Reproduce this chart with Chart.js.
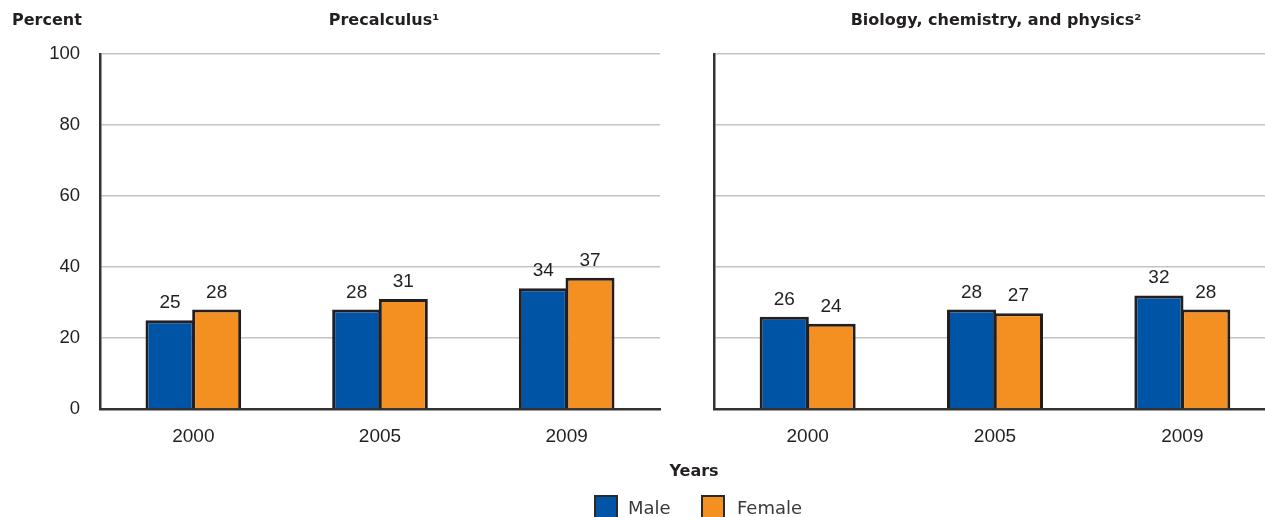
<!DOCTYPE html>
<html>
<head>
<meta charset="utf-8">
<script src="https://cdn.jsdelivr.net/npm/chart.js@4/dist/chart.umd.min.js"></script>
<style>
  html, body { margin: 0; padding: 0; background: #fff; }
  body { width: 1265px; height: 517px; overflow: hidden; position: relative; font-family: "DejaVu Sans", sans-serif; color: #231f20; }
  canvas { position: absolute; top: 0; }
  .lbl { position: absolute; white-space: nowrap; line-height: 1; transform: translateY(-50%); }
  .bold { font-weight: bold; font-size: 16px; }
  .ctr { transform: translate(-50%, -50%); }
  .swatch { position: absolute; width: 20px; height: 22px; border: 2.5px solid #2a2a2a; }
  .leg { font-size: 18px; color: #3a3a3a; }
</style>
</head>
<body>
<canvas id="left" width="680" height="517" style="left:0px"></canvas>
<canvas id="right" width="680" height="517" style="left:614px"></canvas>

<div class="lbl bold" style="left:12px; top:20px;">Percent</div>
<div class="lbl bold ctr" style="left:384px; top:20px;">Precalculus¹</div>
<div class="lbl bold ctr" style="left:996px; top:20px;">Biology, chemistry, and physics²</div>
<div class="lbl bold ctr" style="left:694px; top:471px;">Years</div>

<div id="sw0" class="swatch" style="left:594px; top:495px;"></div>
<div class="lbl leg" style="left:628px; top:508px;">Male</div>
<div id="sw1" class="swatch" style="left:701px; top:495px;"></div>
<div class="lbl leg" style="left:737px; top:508px;">Female</div>

<script>
// Survey years on the category axis
const years = ['2000', '2005', '2009'];

// Percent of graduates completing each course, by sex
const precalcMale = [25, 28, 34];
const precalcFemale = [28, 31, 37];
const scienceMale = [26, 28, 32];
const scienceFemale = [24, 27, 28];

// Percent axis
const yTicks = [0, 20, 40, 60, 80, 100];

const seriesNames = ['Male', 'Female'];
const seriesColors = ['#0054a5', '#f39021'];
const outline = '#231f20';
const font = '"DejaVu Sans", sans-serif';
const numFont = '"Liberation Sans", Arial, sans-serif';

document.getElementById('sw0').style.background = seriesColors[0];
document.getElementById('sw1').style.background = seriesColors[1];

// Writes each bar's value just above it
const valueLabels = {
  id: 'valueLabels',
  afterDatasetsDraw(chart) {
    const ctx = chart.ctx;
    ctx.save();
    ctx.font = '19px ' + numFont;
    ctx.fillStyle = outline;
    ctx.textAlign = 'center';
    ctx.textBaseline = 'alphabetic';
    chart.data.datasets.forEach((ds, i) => {
      chart.getDatasetMeta(i).data.forEach((bar, j) => {
        ctx.fillText(String(ds.data[j]), bar.x, bar.y - 12);
      });
    });
    ctx.restore();
  }
};

function panel(id, male, female, showTicks, rightPad) {
  return new Chart(document.getElementById(id), {
    type: 'bar',
    data: {
      labels: years,
      datasets: [male, female].map((d, i) => ({
        label: seriesNames[i],
        data: d,
        backgroundColor: seriesColors[i],
        borderColor: outline,
        borderWidth: 3,
        borderSkipped: 'start',
        categoryPercentage: 0.5,
        barPercentage: 1.05
      }))
    },
    options: {
      responsive: false,
      animation: false,
      events: [],
      layout: { padding: { left: 0, right: rightPad, top: 54, bottom: 0 } },
      plugins: { legend: { display: false }, tooltip: { enabled: false } },
      scales: {
        x: {
          grid: { display: false, drawTicks: false },
          border: { display: true, color: '#333', width: 2.5 },
          ticks: { color: outline, font: { family: numFont, size: 19 }, padding: 16, maxRotation: 0 },
          afterFit: s => { s.height = 108; }
        },
        y: {
          min: yTicks[0],
          max: yTicks[yTicks.length - 1],
          afterBuildTicks: s => { s.ticks = yTicks.map(v => ({ value: v })); },
          grid: {
            drawTicks: false,
            lineWidth: 1.5,
            color: c => (c.tick && c.tick.value === 0) ? 'rgba(0,0,0,0)' : '#c4c4c4'
          },
          border: { display: true, color: '#333', width: 2.5 },
          ticks: { display: showTicks, color: outline, font: { family: numFont, size: 18.5 }, padding: 20 },
          afterFit: s => { s.width = 100; }
        }
      }
    },
    plugins: [valueLabels]
  });
}

panel('left', precalcMale, precalcFemale, true, 20);
panel('right', scienceMale, scienceFemale, false, 18);
</script>
</body>
</html>
